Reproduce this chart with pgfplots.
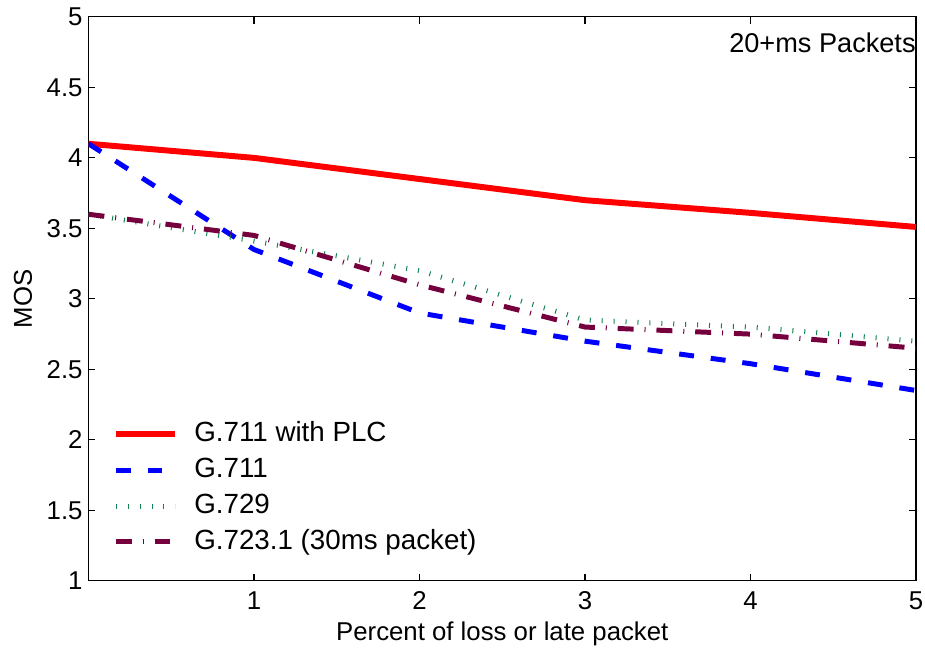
\documentclass[border=0pt]{standalone}
\usepackage{fontspec}
\setmainfont{Liberation Sans}
\usepackage{pgfplots}
\pgfplotsset{compat=1.18}
\definecolor{plcred}{RGB}{255,0,0}
\definecolor{gblue}{RGB}{0,0,255}
\definecolor{ggreen}{RGB}{20,130,80}
\definecolor{gmaroon}{RGB}{118,0,62}
\begin{document}
\begin{tikzpicture}
\begin{axis}[
    scale only axis,
    width=416bp, height=283.5bp,
    xmin=0, xmax=5, ymin=1, ymax=5,
    xtick={1,2,3,4,5},
    ytick={1,1.5,2,2.5,3,3.5,4,4.5,5},
    yticklabels={1,1.5,2,2.5,3,3.5,4,4.5,5},
    xticklabels={1,2,3,4,5},
    tick align=inside,
    major tick length=3.5bp,
    tick style={black, line width=0.6bp},
    axis line style={line width=0.6bp},
    font=\fontsize{13}{15.6}\selectfont,
    yticklabel style={xshift=0.5bp},
    xticklabel style={yshift=-2bp},
    xlabel={Percent of loss or late packet},
    ylabel={MOS},
    xlabel style={yshift=1bp},
    ylabel style={at={(rel axis cs:-0.0793,0.5)}, anchor=center},
    /pgf/number format/assume math mode=true,
    legend cell align=left,
    legend style={draw=none, fill=none, inner sep=0pt,
        at={(0.0288,0.287)}, anchor=north west,
        row sep=2.9bp,
        nodes={inner sep=1bp, text height=10.2bp, text depth=2.9bp},
        font=\fontsize{14}{16.8}\selectfont},
    legend image code/.code={\draw[#1] (0bp,0bp) -- (30bp,0bp); \path (37bp,0bp);},
]
% G.711 with PLC
\addplot[plcred, line width=3bp] coordinates {
    (0,4.1) (1,4.0) (2,3.85) (3,3.7) (4,3.61) (5,3.51)
};
% G.711
\addplot[gblue, line width=2.5bp, dash pattern=on 7.5bp off 8.5bp] coordinates {
    (0,4.1) (1,3.35) (2,2.9) (3,2.7) (4,2.54) (5,2.35)
};
% G.729
\addplot[ggreen, line width=2.5bp, dash pattern=on 0.5bp off 5.5bp] coordinates {
    (0,3.6) (1,3.41) (2,3.2) (3,2.85) (4,2.8) (5,2.7)
};
% G.723.1
\addplot[gmaroon, line width=2.5bp, dash pattern=on 8bp off 5.5bp on 0.5bp off 5.5bp] coordinates {
    (0,3.6) (1,3.45) (2,3.1) (3,2.8) (4,2.75) (5,2.65)
};
\legend{G.711 with PLC, G.711, G.729, G.723.1 (30ms packet)}
\node[anchor=north east, inner sep=0pt, yshift=-7.8bp, font=\fontsize{13.7}{16}\selectfont]
    at (rel axis cs:1,1) {20+ms Packets};
\coordinate (bl) at (rel axis cs:0,0);
\coordinate (tr) at (rel axis cs:1,1);
\end{axis}
\pgfresetboundingbox
\path ([shift={(-44.5bp,-33.5bp)}]bl) rectangle ([shift={(4.5bp,8.5bp)}]tr);
\end{tikzpicture}
\end{document}
